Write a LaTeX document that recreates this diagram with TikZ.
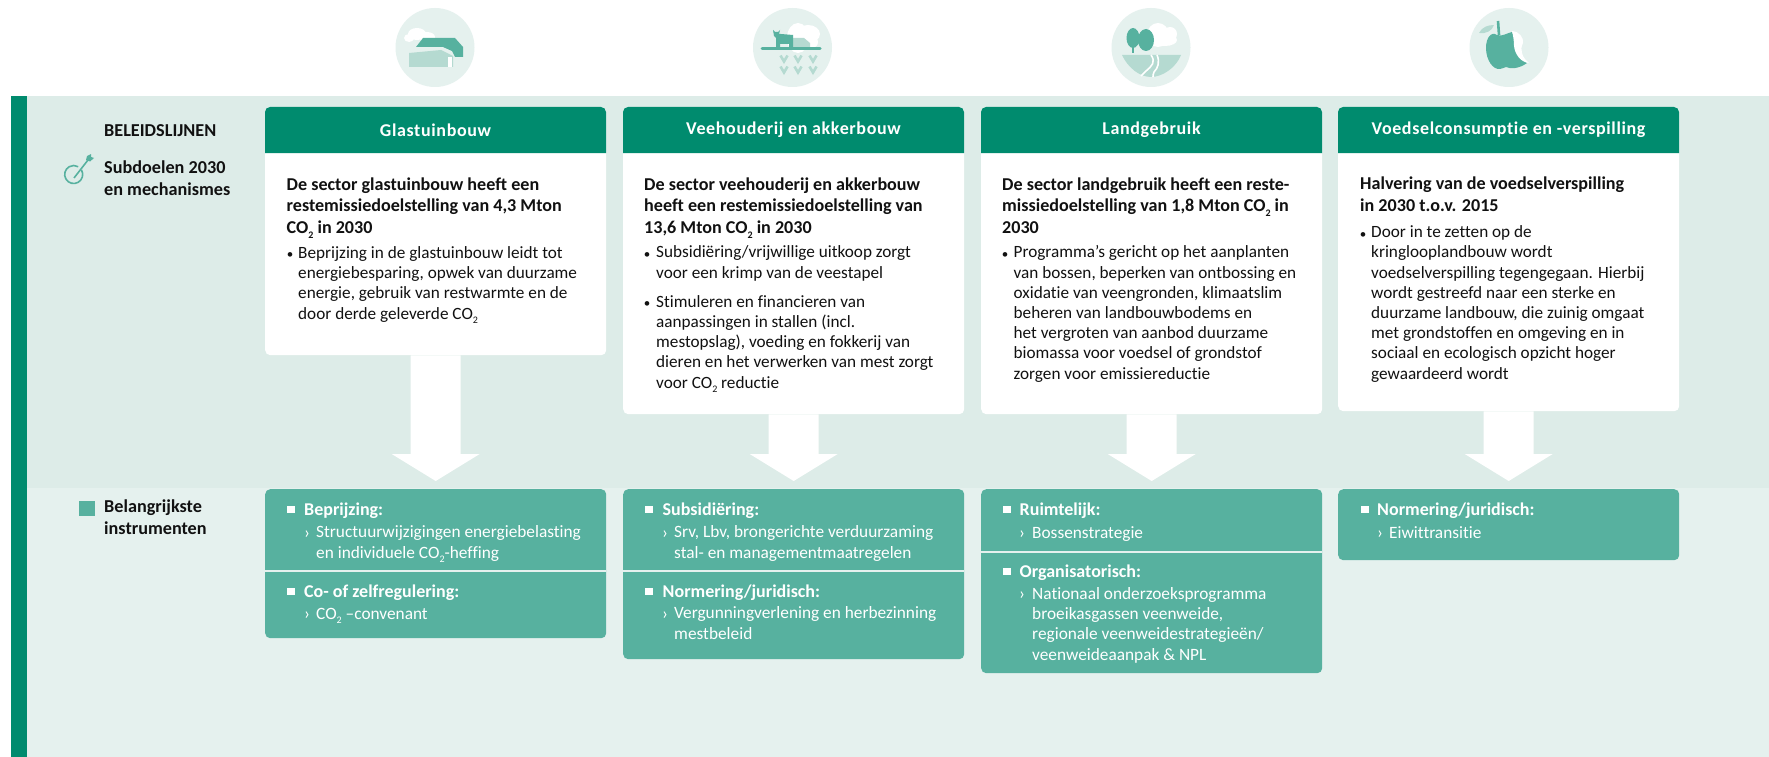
\documentclass[tikz,border=0pt]{standalone}
\usepackage{fontspec}
\usetikzlibrary{calc}
\setmainfont{Carlito}[Ligatures=NoCommon]
\definecolor{dk}{HTML}{008B6E}
\definecolor{md}{HTML}{57B19F}
\definecolor{bandA}{HTML}{DDECE8}
\definecolor{bandB}{HTML}{E5F1EE}
\definecolor{lt}{HTML}{B5DAD1}
\definecolor{ink}{HTML}{111111}
\newcommand{\two}{\raisebox{-.6ex}{\fontsize{10}{10}\selectfont 2}}
\tikzset{
 x=1pt,y=-1pt,
 txt/.style={inner sep=0pt,anchor=base west,align=left,text=ink},
 side/.style={txt,font=\fontsize{18.2}{21.7}\selectfont\bfseries},
 leadt/.style={txt,font=\fontsize{18.1}{21.4}\selectfont\bfseries},
 bodyt/.style={txt,font=\fontsize{17.2}{20.2}\selectfont},
 bul/.style={inner sep=0pt,anchor=base,text=ink,font=\fontsize{13}{20}\selectfont},
 ihead/.style={txt,text=white,font=\fontsize{18}{20}\selectfont\bfseries},
 ibody/.style={txt,text=white,font=\fontsize{17.3}{20.2}\selectfont},
 ichev/.style={inner sep=0pt,anchor=base,text=white,font=\fontsize{17.6}{20}\selectfont},
 htext/.style={inner sep=0pt,anchor=center,text=white,font=\fontsize{18}{20}\selectfont\bfseries},
 whitebox/.style={anchor=north west,fill=white,rounded corners=5pt,inner sep=0pt,minimum width=341pt},
 instbox/.style={anchor=north west,fill=md,rounded corners=5pt,inner sep=0pt,minimum width=341pt},
 badge/.style={circle,fill=bandB,inner sep=0pt,minimum size=79pt},
 bigarrow/.style={fill=white,draw=none},
 isq/.style={fill=white},
 divider/.style={draw=bandB,line width=2pt},
 cloudy/.style={fill=white},
}
\newcommand{\spaced}[1]{\addfontfeature{LetterSpace=3.5}#1}
\newcommand{\downarrowbig}[2]{%
 \fill[bigarrow] ($(#1.south)+(-25,0)$) -- ($(#1.south)+(25,0)$) -- ($(#2.north)+(25,-35)$) -- ($(#2.north)+(44,-35)$) -- ($(#2.north)+(0,-8)$) -- ($(#2.north)+(-44,-35)$) -- ($(#2.north)+(-25,-35)$) -- cycle;}
\newcommand{\headerbar}[2]{%
 \fill[dk] (#1,153) [rounded corners=5pt] -- (#1,107) -- (#2,107) [sharp corners] -- (#2,153) -- cycle;}
\begin{document}
\begin{tikzpicture}
\useasboundingbox (0,0) rectangle (1769,757);
\fill[white] (0,0) rectangle (1769,757);
\fill[bandA] (11,96) rectangle (1769,488);
\fill[bandB] (11,488) rectangle (1769,757);
\fill[dk] (11,96) rectangle (27,757);
% side labels
\node[side] (lbl) at (104,136) {BELEIDSLIJNEN};
\node[side] (sub) at (104,195) {Subdoelen 2030\\en mechanismes};
\node[side] (bel) at (104,534) {Belangrijkste\\instrumenten};
\fill[md] (79,501) rectangle (95,516);
% target icon
\draw[md,line width=1.6pt] (81.5,170) arc[start angle=-30,end angle=300,radius=9];
\draw[md,line width=1.6pt] (74,178) -- (88,160);
\fill[md] (86,160) -- (87,156) -- (91,154) -- (91,157) -- (94,158) -- (90,161.5) -- cycle;
% badges
\node[badge] (b1) at (435,47.5) {};
\node[badge] (b2) at (792.5,47.5) {};
\node[badge] (b3) at (1151,47.5) {};
\node[badge] (b4) at (1509,47.5) {};
% icon 1
\fill[cloudy] (409,38) ellipse[x radius=5,y radius=4] (417,34) ellipse[x radius=9,y radius=6] (427,37) ellipse[x radius=8,y radius=5];
\fill[md] (416,47) -- (423,38) -- (455,38) -- (463,47) -- (463,57) -- (455,57) -- (452,51) -- (443,47) -- cycle;
\fill[lt] (409,53) -- (441,50) -- (447,53) -- (453,56) -- (453,67) -- (409,67) -- cycle;
\fill[white] (448,57) rectangle (452,67);
% icon 2
\fill[cloudy] (798,38) ellipse[x radius=11,y radius=15] (808,34) ellipse[x radius=12,y radius=9] (812,42) ellipse[x radius=6,y radius=6];
\fill[lt] (792,38) -- (804,38) -- (810,43) -- (810,48) -- (792,48) -- cycle;
\fill[md] (773,30) -- (775,32) -- (778,32) -- (780,30) -- (779,34) -- (781,34) -- (793,35) -- (793,48) -- (789,48) -- (789,44) -- (780,44) -- (780,48) -- (776,48) -- (776,38) -- (774,36) -- cycle;
\draw[md,line width=3pt,line cap=round] (762,49) -- (820,49);
\foreach \cx in {784,798,813}{\foreach \cy in {59,70}{
 \draw[lt,line width=2.6pt] (\cx-3.5,\cy-3.5) -- (\cx,\cy+2.5) -- (\cx+3.5,\cy-3.5);}}
% icon 3
\fill[cloudy] (1158,35) ellipse[x radius=11,y radius=12] (1170,34) ellipse[x radius=7,y radius=7] (1165,40) ellipse[x radius=12,y radius=6];
\draw[md,line width=1.5pt] (1133,40) -- (1133,53) (1146,40) -- (1146,51);
\fill[md] (1133,38) ellipse[x radius=6.5,y radius=10] (1146,40) ellipse[x radius=8,y radius=11];
\fill[lt] (1122,55) -- (1181,55) .. controls (1176,68) and (1162,77) .. (1151,77) .. controls (1140,77) and (1128,68) .. (1122,55) -- cycle;
\draw[white,line width=1.6pt] (1151,55) .. controls (1156,62) and (1152,66) .. (1146,71) .. controls (1144,73) and (1142,75) .. (1141,76);
\draw[white,line width=1.6pt] (1157,55) .. controls (1160,62) and (1158,68) .. (1154,72) .. controls (1153,74) and (1153,76) .. (1153,77);
% icon 4
\draw[md,line width=2.6pt] (1498,21) -- (1499,35);
\fill[lt] (1479,33) .. controls (1482,27) and (1488,25) .. (1494,25) .. controls (1492,31) and (1486,34) .. (1479,33) -- cycle;
\fill[md] (1497,35) .. controls (1491,31) and (1486,38) .. (1486,48) .. controls (1486,60) and (1493,70) .. (1500,69) .. controls (1503,69) and (1504,67) .. (1506,67) .. controls (1510,69) and (1519,69) .. (1527,63) .. controls (1520,60) and (1515,53) .. (1515,45) .. controls (1515,40) and (1513,35) .. (1512,32) .. controls (1507,33) and (1502,37) .. (1497,35) -- cycle;
\fill[white] (1512,31) .. controls (1519,31) and (1524,38) .. (1523,43) .. controls (1521,47) and (1521,50) .. (1522,53) .. controls (1523,58) and (1526,60) .. (1529,63) .. controls (1520,62) and (1515,54) .. (1514,46) .. controls (1514,40) and (1513,35) .. (1512,31) -- cycle;
% column boxes
\node[whitebox,minimum height=248pt] (w1) at (265,107) {};
\node[whitebox,minimum height=307pt] (w2) at (623,107) {};
\node[whitebox,minimum height=307pt] (w3) at (981,107) {};
\node[whitebox,minimum height=304pt] (w4) at (1338,107) {};
\node[instbox,minimum height=149pt] (i1) at (265,489) {};
\node[instbox,minimum height=170pt] (i2) at (623,489) {};
\node[instbox,minimum height=184pt] (i3) at (981,489) {};
\node[instbox,minimum height=71pt] (i4) at (1338,489) {};
\downarrowbig{w1}{i1}
\downarrowbig{w2}{i2}
\downarrowbig{w3}{i3}
\downarrowbig{w4}{i4}
\headerbar{265}{606}
\headerbar{623}{964}
\headerbar{981}{1322}
\headerbar{1338}{1679}
\node[htext] (h1) at (435.5,130) {\spaced{Glastuinbouw}};
\node[htext] (h2) at (793.5,130) {\spaced{Veehouderij en akkerbouw}};
\node[htext] (h3) at (1151.5,130) {\spaced{Landgebruik}};
\node[htext] (h4) at (1508.5,130) {\spaced{Voedselconsumptie en -verspilling}};
% column 1
\node[leadt] (l1) at (286.5,233) {De sector glastuinbouw heeft een\\restemissiedoelstelling van 4,3 Mton\\CO\two{} in 2030};
\node[bul] (p1) at (290,258) {•};
\node[bodyt] (t1) at (298,319) {Beprijzing in de glastuinbouw leidt tot\\energiebesparing, opwek van duurzame\\energie, gebruik van restwarmte en de\\door derde geleverde CO\two};
% column 2
\node[leadt] (l2) at (644,233) {De sector veehouderij en akkerbouw\\heeft een restemissiedoelstelling van\\13,6 Mton CO\two{} in 2030};
\node[bul] (p2a) at (647,258) {•};
\node[bodyt] (t2a) at (656,278) {Subsidiëring/vrijwillige uitkoop zorgt\\voor een krimp van de veestapel};
\node[bul] (p2b) at (647,307) {•};
\node[bodyt] (t2b) at (656,388) {Stimuleren en financieren van\\aanpassingen in stallen (incl.\\mestopslag), voeding en fokkerij van\\dieren en het verwerken van mest zorgt\\voor CO\two{} reductie};
% column 3
\node[leadt] (l3) at (1002,233) {De sector landgebruik heeft een reste-\\missiedoelstelling van 1,8 Mton CO\two{} in\\2030};
\node[bul] (p3) at (1005,258) {•};
\node[bodyt] (t3) at (1013.5,379) {Programma’s gericht op het aanplanten\\van bossen, beperken van ontbossing en\\oxidatie van veengronden, klimaatslim\\beheren van landbouwbodems en\\het vergroten van aanbod duurzame\\biomassa voor voedsel of grondstof\\zorgen voor emissiereductie};
% column 4
\node[leadt] (l4) at (1360,211) {Halvering van de voedselverspilling\\in 2030 t.o.v. 2015};
\node[bul] (p4) at (1363,238) {•};
\node[bodyt] (t4) at (1371,379) {Door in te zetten op de\\kringlooplandbouw wordt\\voedselverspilling tegengegaan. Hierbij\\wordt gestreefd naar een sterke en\\duurzame landbouw, die zuinig omgaat\\met grondstoffen en omgeving en in\\sociaal en ecologisch opzicht hoger\\gewaardeerd wordt};
% instruments 1
\fill[isq] (287,506) rectangle (295,513);
\node[ihead] (a1) at (304,515) {Beprijzing:};
\node[ichev] (c1a) at (307,538) {›};
\node[ibody] (b1a) at (316,558) {Structuurwijzigingen energiebelasting\\en individuele CO\two{}-heffing};
\draw[divider] (265,571) -- (606,571);
\fill[isq] (287,588) rectangle (295,595);
\node[ihead] (a1b) at (304,597) {Co- of zelfregulering:};
\node[ichev] (c1b) at (307,619) {›};
\node[ibody] (b1b) at (316,619) {CO\two{} –convenant};
% instruments 2
\fill[isq] (645,506) rectangle (653,513);
\node[ihead] (a2) at (662.5,515) {Subsidiëring:};
\node[ichev] (c2a) at (665,538) {›};
\node[ibody] (b2a) at (674,558) {Srv, Lbv, brongerichte verduurzaming\\stal- en managementmaatregelen};
\draw[divider] (623,571) -- (964,571);
\fill[isq] (645,588) rectangle (653,595);
\node[ihead] (a2b) at (662.5,597) {Normering/juridisch:};
\node[ichev] (c2b) at (665,619) {›};
\node[ibody] (b2b) at (674,639) {Vergunningverlening en herbezinning\\mestbeleid};
% instruments 3
\fill[isq] (1003,506) rectangle (1011,513);
\node[ihead] (a3) at (1019.5,515) {Ruimtelijk:};
\node[ichev] (c3a) at (1022,538) {›};
\node[ibody] (b3a) at (1032,538) {Bossenstrategie};
\draw[divider] (981,552) -- (1322,552);
\fill[isq] (1003,568) rectangle (1011,575);
\node[ihead] (a3b) at (1019.5,577) {Organisatorisch:};
\node[ichev] (c3b) at (1022,599) {›};
\node[ibody] (b3b) at (1032,660) {Nationaal onderzoeksprogramma\\broeikasgassen veenweide,\\regionale veenweidestrategieën/\\veenweideaanpak \& NPL};
% instruments 4
\fill[isq] (1361,506) rectangle (1369,513);
\node[ihead] (a4) at (1377,515) {Normering/juridisch:};
\node[ichev] (c4) at (1380,538) {›};
\node[ibody] (b4a) at (1389,538) {Eiwittransitie};
\end{tikzpicture}
\end{document}
